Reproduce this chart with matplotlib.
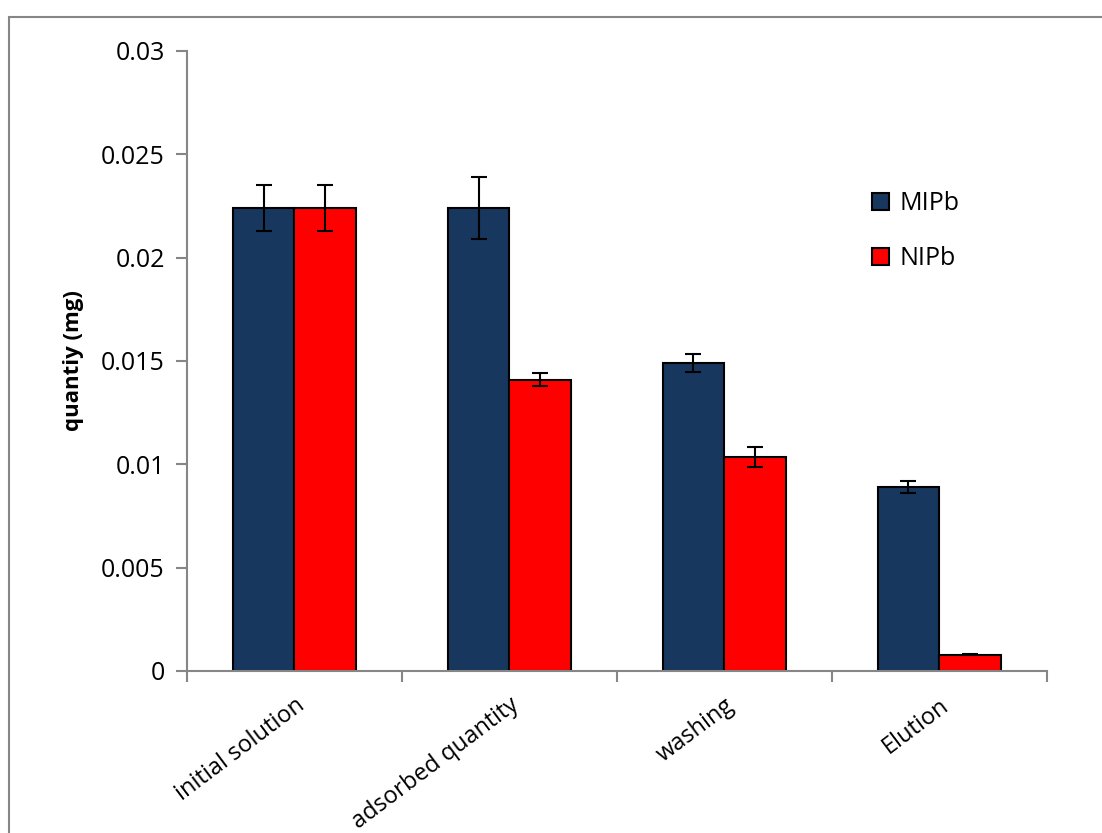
import numpy as np
import matplotlib
matplotlib.use("Agg")
import matplotlib.pyplot as plt
from matplotlib.patches import Rectangle

plt.rcParams["font.family"] = ["Open Sans", "DejaVu Sans"]

categories = ["initial solution", "adsorbed quantity", "washing", "Elution"]
mipb = [0.0224, 0.0224, 0.0149, 0.0089]
mipb_err = [0.0011, 0.0015, 0.00045, 0.0003]
nipb = [0.0224, 0.0141, 0.01035, 0.00078]
nipb_err = [0.0011, 0.0003, 0.0005, 0.00002]

fig = plt.figure(figsize=(11.02, 8.33), dpi=100)
ax = fig.add_axes([0.1697, 0.1945, 0.7803, 0.7443])

x = np.arange(len(categories))
w = 0.288
err_kw = dict(ecolor="black", elinewidth=1.5, capsize=6, capthick=1.5)
ax.bar(x - w / 2, mipb, w, yerr=mipb_err, color="#17375E", edgecolor="black",
       linewidth=1.5, label="MIPb", error_kw=err_kw, zorder=2)
ax.bar(x + w / 2, nipb, w, yerr=nipb_err, color="#FF0000", edgecolor="black",
       linewidth=1.5, label="NIPb", error_kw=err_kw, zorder=2)

ax.set_xlim(-0.5, len(categories) - 0.5)
ax.set_ylim(0, 0.03)
ax.set_yticks(np.arange(0, 0.0301, 0.005))
ax.set_yticklabels(["0", "0.005", "0.01", "0.015", "0.02", "0.025", "0.03"])

# category boundaries carry the x tick marks
ax.set_xticks(np.arange(-0.5, len(categories)), minor=False)
ax.set_xticklabels([])
ax.set_xticks(x, minor=True)
ax.set_xticklabels(categories, minor=True, rotation=37, ha="right",
                   rotation_mode="anchor", fontsize=17)
ax.tick_params(axis="x", which="minor", length=0, pad=16)
ax.tick_params(axis="x", which="major", length=8, width=1.5, color="#868686",
               direction="out")
ax.tick_params(axis="y", length=8, width=1.5, color="#868686", labelsize=18, pad=8)

for s in ["top", "right"]:
    ax.spines[s].set_visible(False)
for s in ["left", "bottom"]:
    ax.spines[s].set_color("#868686")
    ax.spines[s].set_linewidth(1.5)

ax.set_ylabel("quantiy (mg)", fontsize=16, fontweight="bold", labelpad=12)

ax.legend(loc="upper left", bbox_to_anchor=(0.77, 0.81), frameon=False,
          fontsize=18, handlelength=0.7, handleheight=0.7,
          labelspacing=1.2, handletextpad=0.4)

# outer chart border (cropped on right and bottom)
fig.patches.append(Rectangle((9 / 1102, -0.1), 1.2, 1 - 17 / 833 + 0.1,
                             transform=fig.transFigure, fill=False,
                             edgecolor="#868686", linewidth=1.5))

fig.savefig("out.png", dpi=100)
